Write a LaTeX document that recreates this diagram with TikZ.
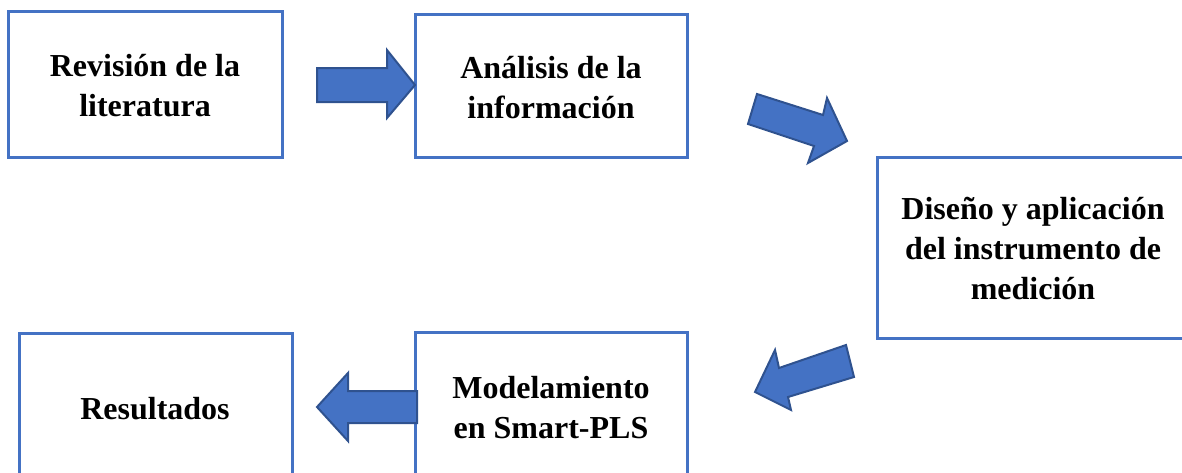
\documentclass[tikz,border=0pt]{standalone}
\usepackage{fontspec}
\setmainfont{Liberation Serif}
\definecolor{boxblue}{HTML}{4472C4}
\definecolor{arrowedge}{HTML}{2F528F}
\begin{document}
\begin{tikzpicture}[x=1pt,y=-1pt,
  stagebox/.style={draw=boxblue, line width=3pt, fill=white, inner sep=0pt},
  stagetext/.style={align=center, font=\fontsize{32}{40}\selectfont\bfseries, inner sep=0pt},
  blockarrow/.style={fill=boxblue, draw=arrowedge, line width=2pt, line join=miter}]
\useasboundingbox (0,0) rectangle (1182,472);
\clip (0,0) rectangle (1182,472);
% boxes
\draw[stagebox] (8,11) rectangle (282,157);
\draw[stagebox] (415,14) rectangle (687,157);
\draw[stagebox] (877,157) rectangle (1189,338);
\draw[stagebox] (415,332) rectangle (687,490);
\draw[stagebox] (19,333) rectangle (292,490);
% texts
\node[stagetext] (rev) at (145,86) {Revisión de la\\literatura};
\node[stagetext] (ana) at (551,88) {Análisis de la\\información};
\node[stagetext] (dis) at (1033,249) {Diseño y aplicación\\del instrumento de\\medición};
\node[stagetext] (mod) at (551,408) {Modelamiento\\en Smart-PLS};
\node[stagetext] (res) at (155,409) {Resultados};
% block arrows
\draw[blockarrow] (317,68) -- (387,68) -- (387,50) -- (415,85) -- (387,118) -- (387,102) -- (317,102) -- cycle;
\draw[blockarrow] (757,94) -- (823,115) -- (827,98) -- (847,141) -- (808,163) -- (814,146) -- (748,124) -- cycle;
\draw[blockarrow] (846,345) -- (779,368) -- (775,350) -- (755,392) -- (791,410) -- (788,397) -- (854,377) -- cycle;
\draw[blockarrow] (417,391) -- (348,391) -- (348,373) -- (317,407) -- (348,441) -- (348,423) -- (417,423) -- cycle;
\end{tikzpicture}
\end{document}
